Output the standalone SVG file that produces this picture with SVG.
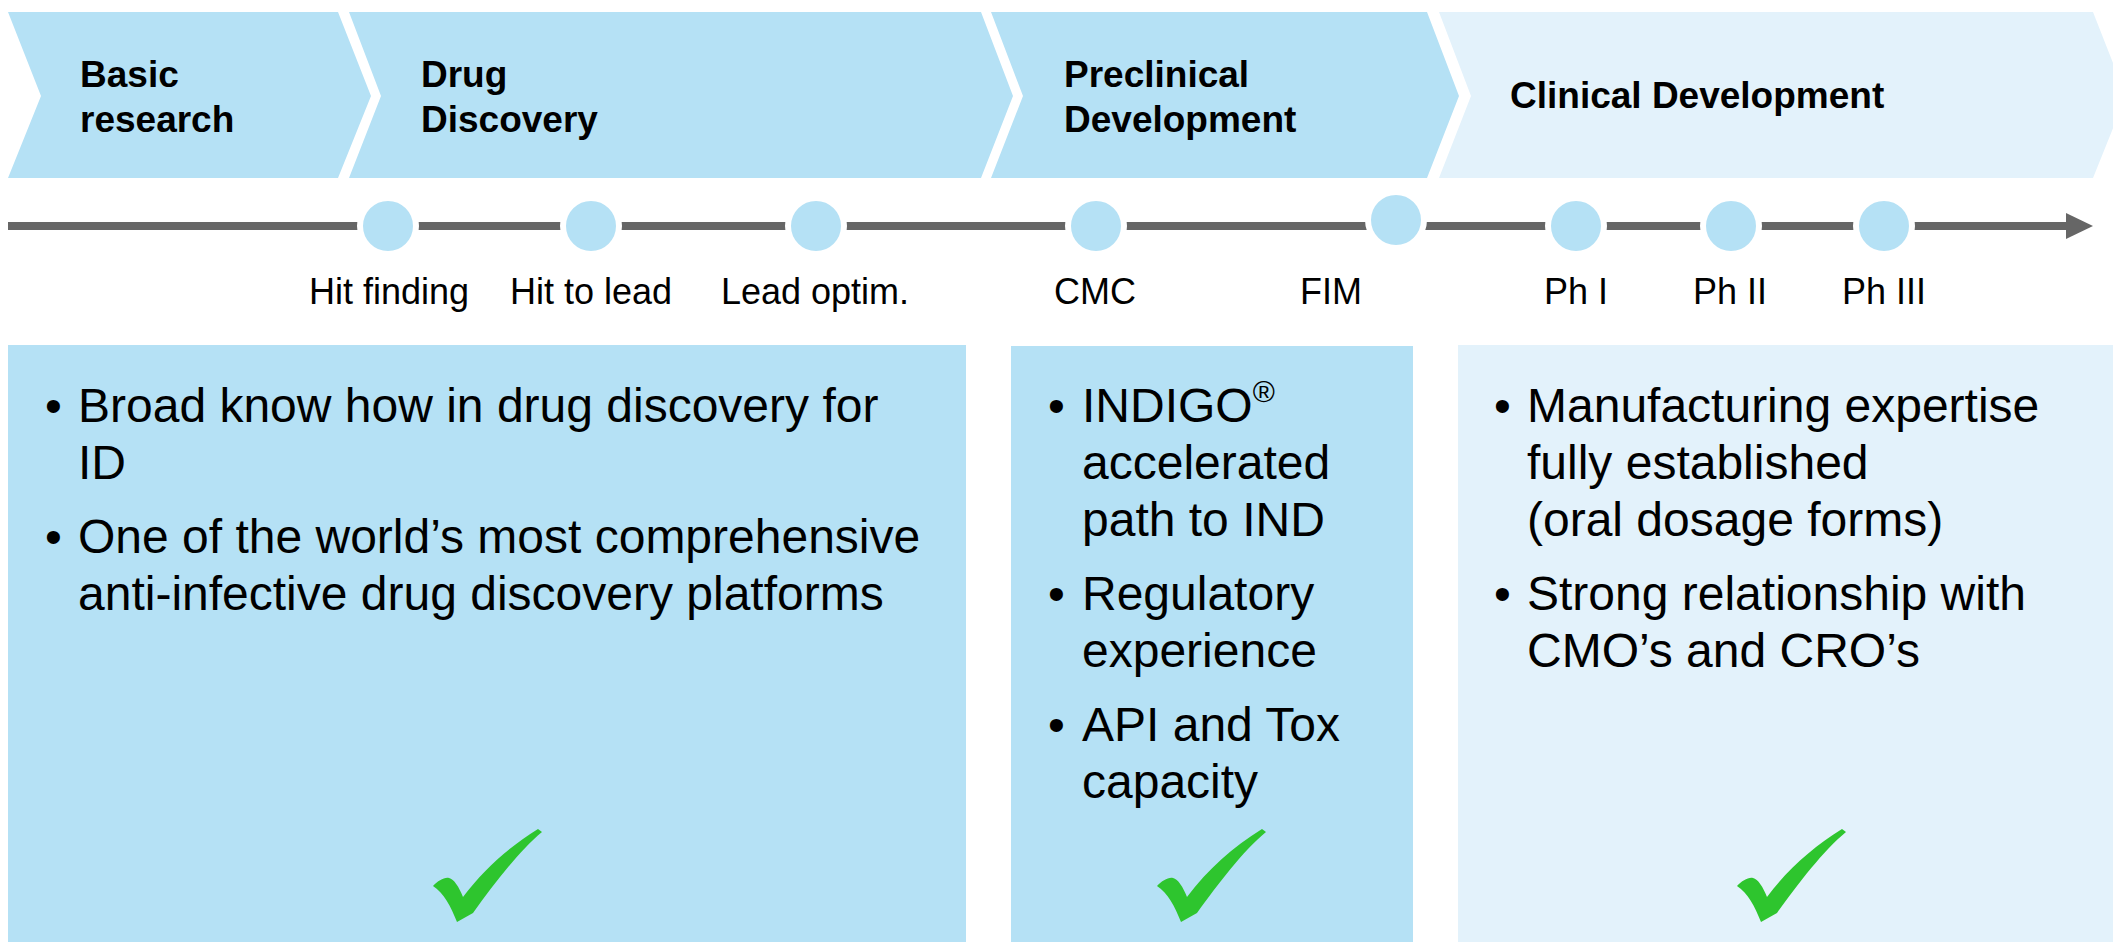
<svg xmlns="http://www.w3.org/2000/svg" width="2113" height="942" viewBox="0 0 2113 942">
<style>
.ph{fill:#B5E1F5}
.ph2{fill:#E3F2FB}
.title{font-family:"Liberation Sans",Arial,sans-serif;font-weight:bold;font-size:37px;fill:#000}
.lbl{font-family:"Liberation Sans",Arial,sans-serif;font-size:36px;fill:#000;text-anchor:middle}
.body{font-family:"Liberation Sans",Arial,sans-serif;font-size:48px;fill:#000}
.ms{fill:#B5E1F5;stroke:#fff;stroke-width:6}
.chk{fill:#2EC52E}
.line{stroke:#666;stroke-width:8;fill:none}
</style>
<defs>
<path id="check" d="M-1,57 C4,52 10,48 15,49 C20,50 25,58 29,68 C50,40 75,18 104,0 L108,3 C85,22 60,55 39,84 L23,93 C17,78 10,64 -1,57 Z"/>
</defs>
<rect width="2113" height="942" fill="#fff"/>

<g id="phase-basic">
<polygon class="ph" points="8,12 338,12 371,96 338,178 8,178 41,96"/>
<text class="title" x="80" y="87">Basic</text>
<text class="title" x="80" y="132">research</text>
</g>
<g id="phase-discovery">
<polygon class="ph" points="349,12 981,12 1013,96 981,178 349,178 381,96"/>
<text class="title" x="421" y="87">Drug</text>
<text class="title" x="421" y="132">Discovery</text>
</g>
<g id="phase-preclinical">
<polygon class="ph" points="991,12 1427,12 1459,96 1427,178 991,178 1023,96"/>
<text class="title" x="1064" y="87">Preclinical</text>
<text class="title" x="1064" y="132">Development</text>
</g>
<g id="phase-clinical">
<polygon class="ph2" points="1439,12 2093,12 2126,96 2093,178 1439,178 1471,96"/>
<text class="title" x="1510" y="108">Clinical Development</text>
</g>

<g id="connectors">
<line class="line" x1="8" y1="226" x2="2070" y2="226"/>
<polygon points="2066,213 2093,226 2066,239" fill="#666"/>
</g>

<g id="ms-hit-finding"><circle class="ms" cx="388" cy="226" r="28"/><text class="lbl" x="389" y="304">Hit finding</text></g>
<g id="ms-hit-to-lead"><circle class="ms" cx="591" cy="226" r="28"/><text class="lbl" x="591" y="304">Hit to lead</text></g>
<g id="ms-lead-optim"><circle class="ms" cx="816" cy="226" r="28"/><text class="lbl" x="815" y="304">Lead optim.</text></g>
<g id="ms-cmc"><circle class="ms" cx="1096" cy="226" r="28"/><text class="lbl" x="1095" y="304">CMC</text></g>
<g id="ms-fim"><circle class="ms" cx="1396" cy="220" r="28"/><text class="lbl" x="1331" y="304">FIM</text></g>
<g id="ms-ph1"><circle class="ms" cx="1576" cy="226" r="28"/><text class="lbl" x="1576" y="304">Ph I</text></g>
<g id="ms-ph2"><circle class="ms" cx="1731" cy="226" r="28"/><text class="lbl" x="1730" y="304">Ph II</text></g>
<g id="ms-ph3"><circle class="ms" cx="1884" cy="226" r="28"/><text class="lbl" x="1884" y="304">Ph III</text></g>

<g id="box-discovery">
<rect class="ph" x="8" y="345" width="958" height="597"/>
<text class="body" x="45" y="422">•</text>
<text class="body" x="78" y="422">Broad know how in drug discovery for</text>
<text class="body" x="78" y="479">ID</text>
<text class="body" x="45" y="553">•</text>
<text class="body" x="78" y="553">One of the world’s most comprehensive</text>
<text class="body" x="78" y="610">anti-infective drug discovery platforms</text>
<use href="#check" class="chk" x="434" y="829"/>
</g>

<g id="box-preclinical">
<rect class="ph" x="1011" y="346" width="402" height="596"/>
<text class="body" x="1048" y="422">•</text>
<text class="body" x="1082" y="422">INDIGO<tspan font-size="30" dy="-20">®</tspan></text>
<text class="body" x="1082" y="479">accelerated</text>
<text class="body" x="1082" y="536">path to IND</text>
<text class="body" x="1048" y="610">•</text>
<text class="body" x="1082" y="610">Regulatory</text>
<text class="body" x="1082" y="667">experience</text>
<text class="body" x="1048" y="741">•</text>
<text class="body" x="1082" y="741">API and Tox</text>
<text class="body" x="1082" y="798">capacity</text>
<use href="#check" class="chk" x="1158" y="829"/>
</g>

<g id="box-clinical">
<rect class="ph2" x="1458" y="345" width="655" height="597"/>
<text class="body" x="1494" y="422">•</text>
<text class="body" x="1527" y="422">Manufacturing expertise</text>
<text class="body" x="1527" y="479">fully established</text>
<text class="body" x="1527" y="536">(oral dosage forms)</text>
<text class="body" x="1494" y="610">•</text>
<text class="body" x="1527" y="610">Strong relationship with</text>
<text class="body" x="1527" y="667">CMO’s and CRO’s</text>
<use href="#check" class="chk" x="1738" y="829"/>
</g>
</svg>
